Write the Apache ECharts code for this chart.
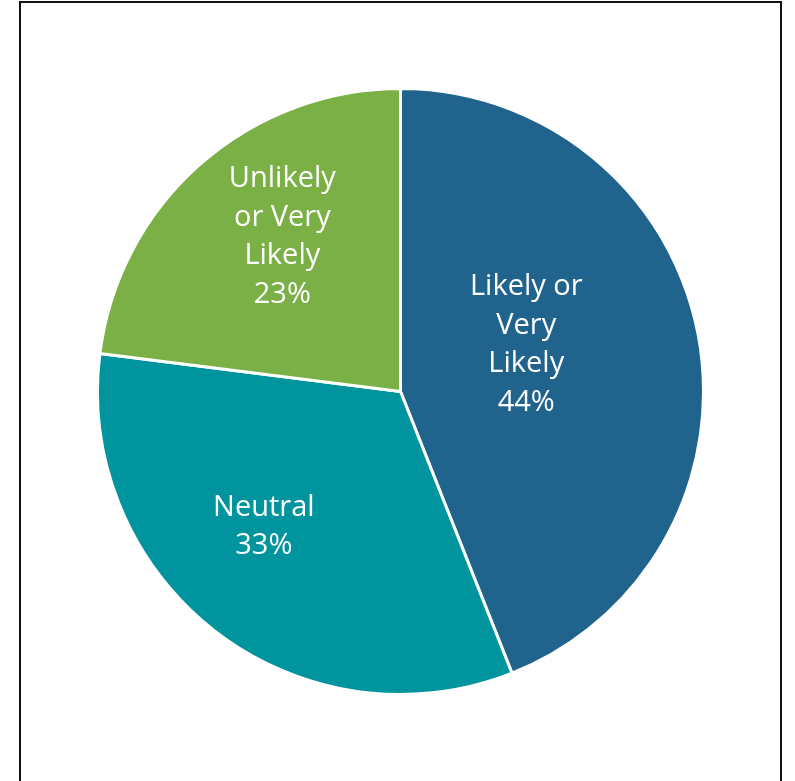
<!DOCTYPE html>
<html>
<head>
<meta charset="utf-8">
<script src="https://cdn.jsdelivr.net/npm/echarts@6/dist/echarts.min.js"></script>
<style>
  html, body { margin: 0; padding: 0; background: #ffffff; }
  #chart { width: 795px; height: 781px; }
</style>
</head>
<body>
<div id="chart"></div>
<script>
// Survey response shares
const categories = ['Likely or\nVery\nLikely', 'Neutral', 'Unlikely\nor Very\nLikely'];
const shares = [44, 33, 23];
const colors = ['#20638C', '#00949E', '#7AB045'];
// Fine placement of the in-slice labels (pixels, relative to the slice midpoint)
const labelShift = [[-26, -18], [-42, 13], [-16, -39]];

const chart = echarts.init(document.getElementById('chart'), null, { renderer: 'canvas' });

chart.setOption({
  animation: false,
  backgroundColor: '#ffffff',
  graphic: [{
    type: 'rect',
    shape: { x: 20, y: 2, width: 761, height: 820 },
    style: { fill: 'none', stroke: '#111111', lineWidth: 2 },
    silent: true
  }],
  series: [{
    type: 'pie',
    center: [400.5, 391.5],
    radius: [0, 303],
    startAngle: 90,
    clockwise: true,
    itemStyle: { borderColor: '#ffffff', borderWidth: 3 },
    label: {
      show: true,
      position: 'inside',
      color: '#ffffff',
      fontFamily: 'Open Sans',
      fontWeight: 400,
      fontSize: 29,
      lineHeight: 38.5,
      align: 'center',
      formatter: function (p) { return p.name + '\n' + p.value + '%'; }
    },
    labelLine: { show: false },
    labelLayout: function (p) {
      const s = labelShift[p.dataIndex];
      return { dx: s[0], dy: s[1] };
    },
    data: categories.map(function (c, i) {
      return { name: c, value: shares[i], itemStyle: { color: colors[i] } };
    })
  }]
});
</script>
</body>
</html>
